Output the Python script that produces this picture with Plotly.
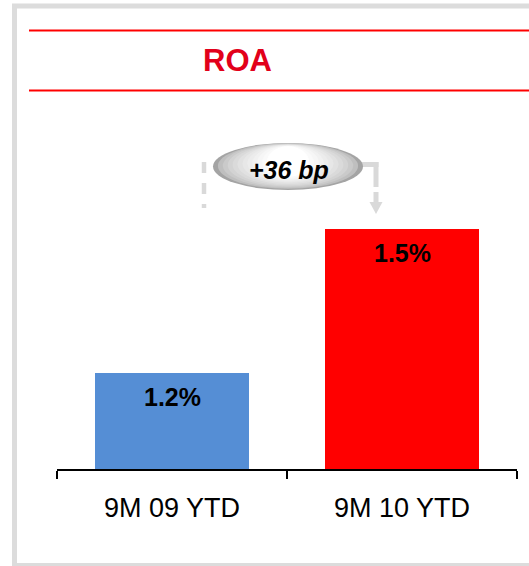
import plotly.graph_objects as go

# ---- data ----
categories = ["9M 09 YTD", "9M 10 YTD"]
roa_values = [1.2, 1.5]
value_labels = ["1.2%", "1.5%"]
bar_colors = ["#558ed5", "#ff0000"]
title_text = "ROA"
delta_text = "+36 bp"

W, H = 529, 566
L, R, T, B = 57, 12, 100, 97
plot_w = W - L - R
plot_h = H - T - B
y_min = 1.0
y_max = y_min + plot_h / 480.0

FONT = "Liberation Sans, Arial, sans-serif"


def px(x):
    return (x - L) / plot_w


def py(y):
    return (H - B - y) / plot_h


fig = go.Figure()
fig.add_trace(go.Bar(
    x=categories, y=roa_values,
    marker=dict(color=bar_colors, line=dict(width=0)),
    width=154 / 230,
    hoverinfo="skip",
))

shapes = []
# outer gray frame
shapes.append(dict(type="rect", xref="paper", yref="paper",
                   x0=px(14.5), x1=px(545), y0=py(6), y1=py(565.5),
                   line=dict(color="#dcdcdc", width=5), fillcolor="rgba(0,0,0,0)", layer="below"))
# red rules
for yy in (30.5, 90.5):
    shapes.append(dict(type="line", xref="paper", yref="paper",
                       x0=px(29), x1=px(535), y0=py(yy), y1=py(yy),
                       line=dict(color="#ff0000", width=2)))

# dashed connector lines
gray = "#d9d9d9"
shapes.append(dict(type="line", xref="paper", yref="paper",
                   x0=px(204), x1=px(204), y0=py(162), y1=py(208),
                   line=dict(color=gray, width=4.5, dash="11px,10px")))
shapes.append(dict(type="line", xref="paper", yref="paper",
                   x0=px(355), x1=px(378.5), y0=py(164.5), y1=py(164.5),
                   line=dict(color=gray, width=5)))
shapes.append(dict(type="line", xref="paper", yref="paper",
                   x0=px(376), x1=px(376), y0=py(162), y1=py(205),
                   line=dict(color=gray, width=5, dash="25px,5px")))
# arrow head
ax, atop, atip = 376, 202, 214
shapes.append(dict(type="path", xref="paper", yref="paper",
                   path=f"M {px(ax-6.5)},{py(atop)} L {px(ax+6.5)},{py(atop)} L {px(ax)},{py(atip)} Z",
                   fillcolor=gray, line=dict(width=0)))

# gradient ellipse (stacked)
cx, cy, a, b = 288, 166.5, 75, 23.5
n = 12
for i in range(n):
    t = i / (n - 1)
    aa = a * (1 - 0.72 * t)
    bb = b * (1 - 0.35 * t)
    ccy = cy - (b - bb) * 0.6
    v = int(0xa4 + (0xff - 0xa4) * (t ** 0.5))
    shapes.append(dict(type="circle", xref="paper", yref="paper",
                       x0=px(cx - aa), x1=px(cx + aa), y0=py(ccy - bb), y1=py(ccy + bb),
                       fillcolor=f"rgb({v},{v},{v})", line=dict(width=0)))

annotations = [
    dict(text=f"<b>{title_text}</b>", xref="paper", yref="paper",
         x=px(237.5), y=py(61), showarrow=False, xanchor="center", yanchor="middle",
         font=dict(family=FONT, size=31, color="#e2001a")),
    dict(text=f"<b><i>{delta_text}</i></b>", xref="paper", yref="paper",
         x=px(289), y=py(170), showarrow=False, xanchor="center", yanchor="middle",
         font=dict(family=FONT, size=25, color="#000000")),
]
for c, v, lab in zip(categories, roa_values, value_labels):
    annotations.append(dict(text=f"<b>{lab}</b>", x=c, y=v, xref="x", yref="y",
                            showarrow=False, yanchor="top", yshift=-8,
                            font=dict(family=FONT, size=25, color="#000000")))

fig.update_layout(
    width=W, height=H,
    margin=dict(l=L, r=R, t=T, b=B, pad=0),
    paper_bgcolor="white", plot_bgcolor="white",
    showlegend=False,
    shapes=shapes, annotations=annotations,
    bargap=0,
    xaxis=dict(showline=True, linecolor="#000000", linewidth=1.5,
               ticks="outside", tickson="boundaries", ticklen=8, tickwidth=1.5,
               tickcolor="#000000", showgrid=False, zeroline=False,
               tickfont=dict(family=FONT, size=27, color="#000000"),
               ticklabelstandoff=14),
    yaxis=dict(range=[y_min, y_max], visible=False, showgrid=False, zeroline=False),
)

fig.write_html("out.html", config={"displayModeBar": False},
               post_script="document.body.style.margin='0';document.body.style.overflow='hidden';")
